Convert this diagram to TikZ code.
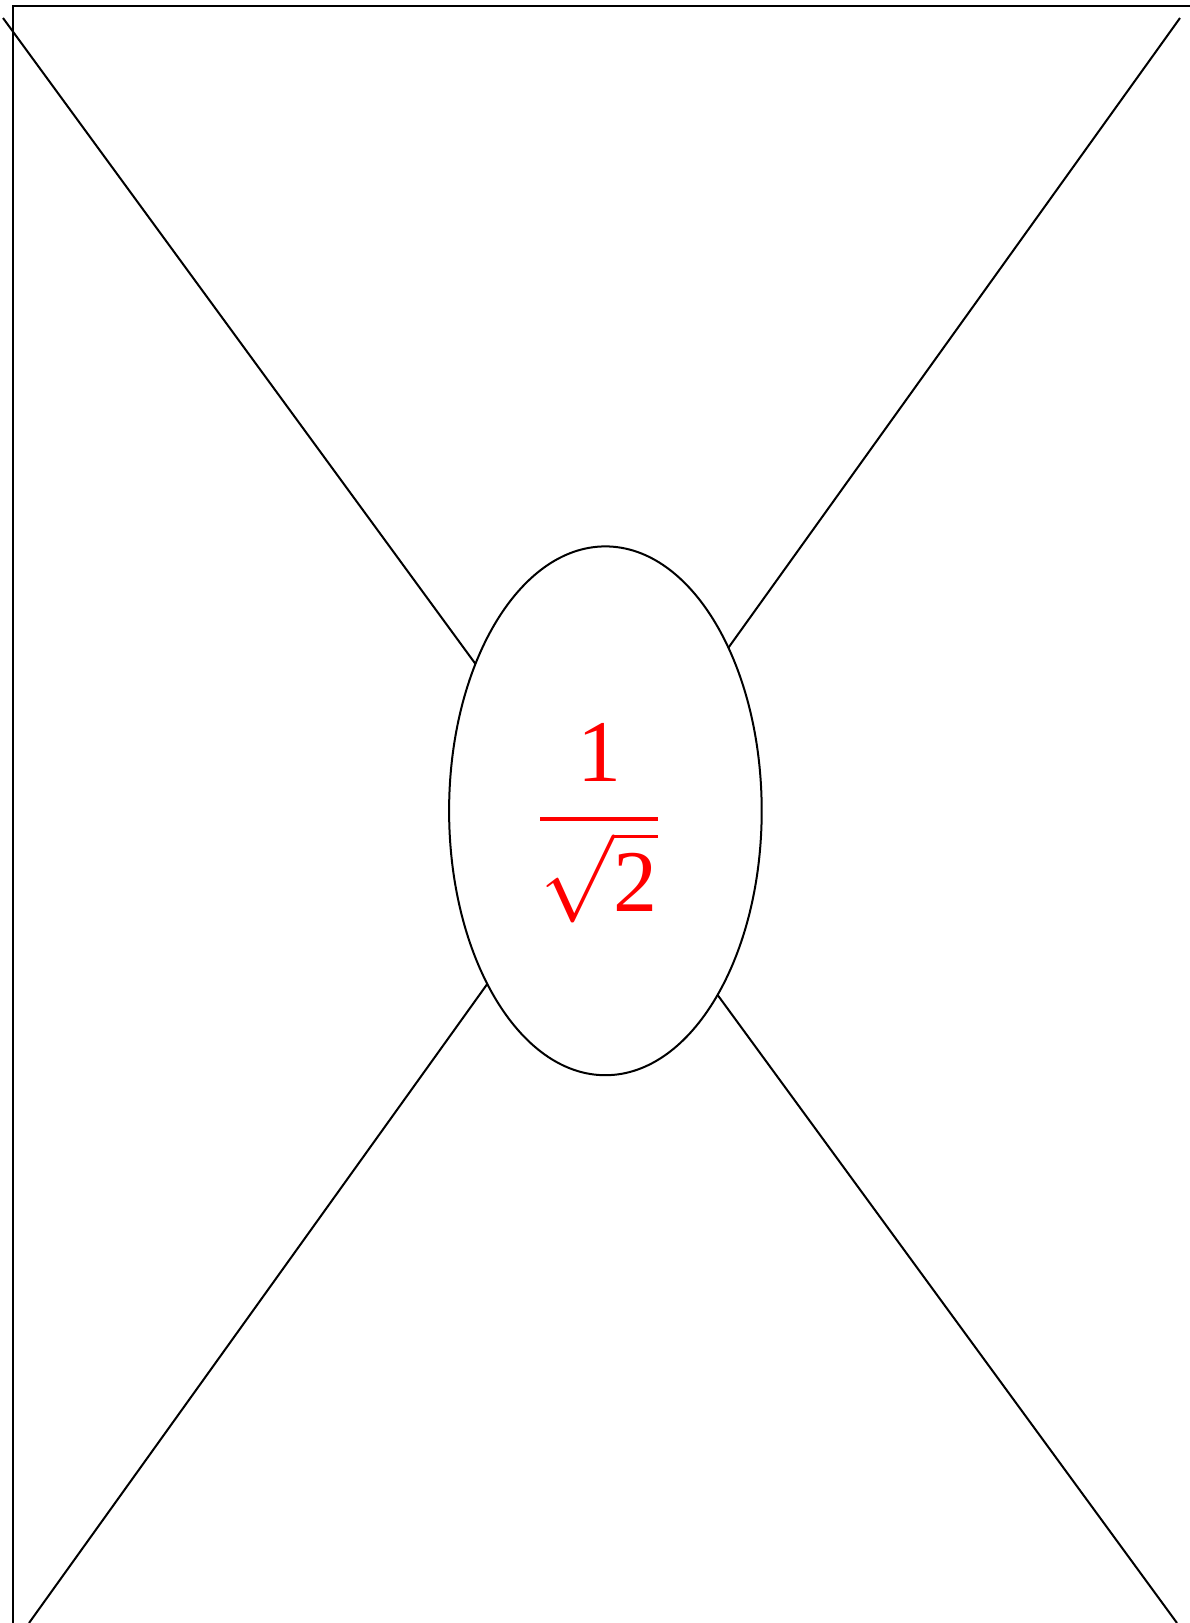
\documentclass[tikz,border=0pt]{standalone}
\usepackage{graphicx}
\usepackage{fontspec}
\setmainfont{Liberation Serif}
\usetikzlibrary{shapes.geometric}
\begin{document}
\begin{tikzpicture}[x=1pt,y=-1pt,
  edge/.style={line width=2pt,black},
  oval/.style={ellipse,draw,line width=2pt,fill=white,minimum width=312.6pt,minimum height=528.8pt,inner sep=0pt},
  lbl/.style={text=red,inner sep=0pt}]
\useasboundingbox (0,0) rectangle (1190,1623);
\coordinate (fr) at (12.5,6);
\coordinate (ftr) at (1195,6);
\coordinate (fbl) at (12.5,1628);
\draw[edge] (ftr) -- (fr) -- (fbl);
\coordinate (tl) at (3,18);
\coordinate (br) at (1177,1623);
\coordinate (tr) at (1180,18);
\coordinate (bl) at (29,1623);
\draw[edge] (tl) -- (br);
\draw[edge] (tr) -- (bl);
\node[oval] (e) at (605.4,810.8) {};
\node[lbl] (t) at (599,823) {\scalebox{8.8}{$\displaystyle\frac{\mbox{1}}{\sqrt{\mbox{2}}}$}};
\end{tikzpicture}
\end{document}
